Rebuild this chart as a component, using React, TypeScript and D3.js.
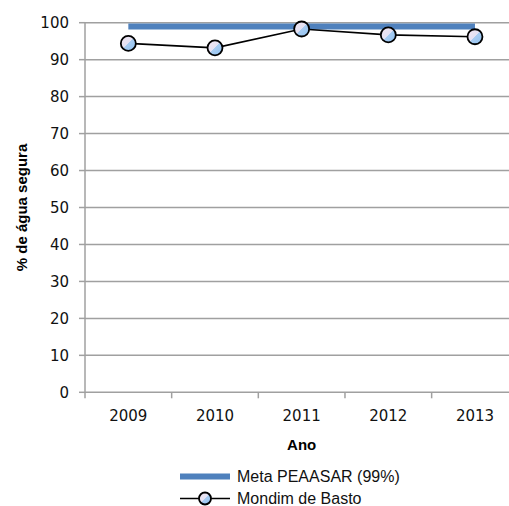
import React from "react";
import * as d3 from "d3";

const years = ["2009", "2010", "2011", "2012", "2013"];
const mondim = [94.4, 93.2, 98.3, 96.7, 96.2];
const meta = [99, 99, 99, 99, 99];
const yTicks = [0, 10, 20, 30, 40, 50, 60, 70, 80, 90, 100];
const seriesNames = ["Meta PEAASAR (99%)", "Mondim de Basto"];

const W = 509;
const H = 506;
const left = 85;
const right = 518.3;
const top = 22.7;
const bottom = 392.3;
const font = "'Liberation Sans', Arial, sans-serif";
const numFont = "'DejaVu Sans', sans-serif";

export default function App() {
  const x = d3.scaleBand<string>().domain(years).range([left, right]).padding(0);
  const y = d3.scaleLinear().domain([0, 100]).range([bottom, top]);
  const cx = (d: string) => (x(d) as number) + x.bandwidth() / 2;
  const line = d3
    .line<number>()
    .x((_, i) => cx(years[i]))
    .y((v) => y(v));
  const boundaries = years.map((d) => x(d) as number);

  return (
    <svg
      width={W}
      height={H}
      style={{ position: "absolute", left: 0, top: 0, background: "#fff" }}
    >
      <defs>
        <linearGradient id="mk" x1="0" y1="0" x2="1" y2="1">
          <stop offset="0" stopColor="#f3e6f0" />
          <stop offset="0.5" stopColor="#e4e2f4" />
          <stop offset="0.5" stopColor="#a9cdf2" />
          <stop offset="1" stopColor="#8ec0f0" />
        </linearGradient>
      </defs>
      {yTicks.map((t) => (
        <g key={t}>
          {t > 0 && (
            <line x1={left} x2={W} y1={y(t)} y2={y(t)} stroke="#a0a0a0" strokeWidth={1.5} />
          )}
          <line x1={left - 6} x2={left} y1={y(t)} y2={y(t)} stroke="#a0a0a0" strokeWidth={1.5} />
          <text
            x={69}
            y={y(t)}
            dy="0.36em"
            textAnchor="end"
            fontFamily={numFont}
            fontSize={15}
            fill="#111"
          >
            {t}
          </text>
        </g>
      ))}
      <line x1={left} x2={left} y1={top} y2={bottom} stroke="#a0a0a0" strokeWidth={1.5} />
      <line x1={left} x2={W} y1={bottom} y2={bottom} stroke="#a0a0a0" strokeWidth={1.5} />
      {boundaries.map((b, i) => (
        <line key={i} x1={b} x2={b} y1={bottom} y2={bottom + 6} stroke="#a0a0a0" strokeWidth={1.5} />
      ))}
      {years.map((d) => (
        <text
          key={d}
          x={cx(d)}
          y={416}
          dy="0.36em"
          textAnchor="middle"
          fontFamily={numFont}
          fontSize={15}
          fill="#111"
        >
          {d}
        </text>
      ))}
      <text
        x={(left + right) / 2}
        y={445}
        dy="0.35em"
        textAnchor="middle"
        fontFamily={font}
        fontSize={15}
        fontWeight="bold"
        fill="#000"
      >
        Ano
      </text>
      <text
        transform={`translate(22,${(top + bottom) / 2}) rotate(-90)`}
        dy="0.35em"
        textAnchor="middle"
        fontFamily={font}
        fontSize={15}
        fontWeight="bold"
        fill="#000"
      >
        % de água segura
      </text>
      <path d={line(meta) || ""} fill="none" stroke="#4f81bd" strokeWidth={6} />
      <path d={line(mondim) || ""} fill="none" stroke="#000" strokeWidth={1.6} />
      {mondim.map((v, i) => (
        <circle
          key={i}
          cx={cx(years[i])}
          cy={y(v)}
          r={7.5}
          fill="url(#mk)"
          stroke="#000"
          strokeWidth={1.8}
        />
      ))}
      <g>
        <line x1={180} x2={230} y1={476.5} y2={476.5} stroke="#4f81bd" strokeWidth={6} />
        <text x={237} y={476.5} dy="0.35em" fontFamily={font} fontSize={16} fill="#111">
          {seriesNames[0]}
        </text>
        <line x1={180} x2={230} y1={498.5} y2={498.5} stroke="#000" strokeWidth={1.6} />
        <circle cx={205} cy={498.5} r={6} fill="url(#mk)" stroke="#000" strokeWidth={1.8} />
        <text x={237} y={498.5} dy="0.32em" fontFamily={font} fontSize={16} fill="#111">
          {seriesNames[1]}
        </text>
      </g>
    </svg>
  );
}
